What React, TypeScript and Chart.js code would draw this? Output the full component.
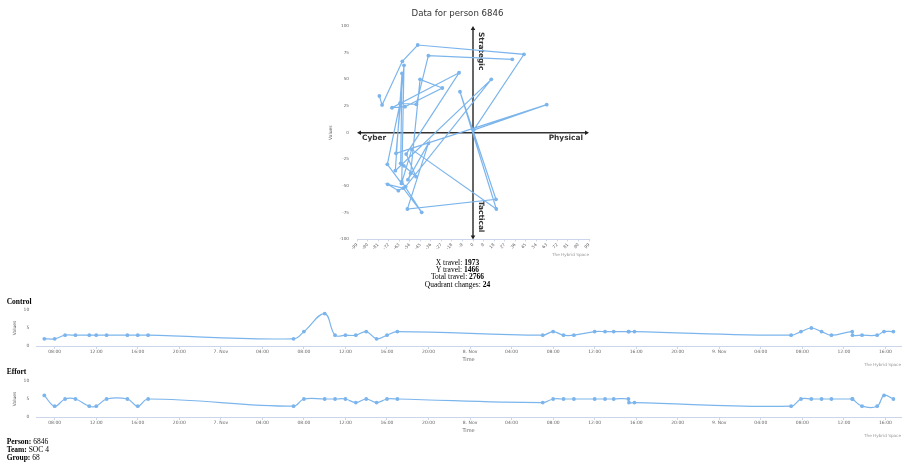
import React, { useEffect, useRef } from "react";
import { Chart, registerables } from "chart.js";

Chart.register(...registerables);

const FONT = "'DejaVu Sans', sans-serif";
const SERIF = "'Liberation Serif', 'Times New Roman', serif";
const LINE_COLOR = "#7cb5ec";

// ---------- Quadrant (hybrid space) chart data ----------
const personId = "6846";
const scatterX = [
  -79.9, -77.6, -60.3, -47.2, 43.5, 0.5, 62.9, -65.7, -58.9, -60.8,
  -43.8, -59.5, -72.8, -63.7, -57.5, 15.6, -66.3, -60.6, -61.7, -59.0,
  -48.6, -57.0, -11.9, -69.1, -58.0, -26.2, -45.2, -53.2, -55.5, -38.1,
  -56.0, 19.6, -11.1, 19.9, -52.3, -61.0, -73.1, -62.3, -48.4, -38.1, 33.5,
];
const scatterY = [
  34.4, 26.0, 66.9, 82.2, 73.5, 2.5, 26.3, -19.3, 63.2, -45.9,
  -74.6, -52.0, -48.4, -54.3, -50.5, 50.0, -35.6, 55.7, -28.7, -31.0,
  -41.2, -20.0, 56.2, 23.4, 24.4, 41.9, 50.0, -38.0, -44.0, -10.0,
  -71.5, -62.4, 38.4, -71.5, -15.6, -47.5, -29.6, 27.6, 26.6, 72.2, 68.8,
];
const quadX = { min: -99, max: 99, step: 9 };
const quadY = { min: -100, max: 100, step: 25 };
const quadrantLabels = { left: "Cyber", right: "Physical", top: "Strategic", bottom: "Tactical" };

const travelStats = [
  ["X travel", "1973"],
  ["Y travel", "1466"],
  ["Total travel", "2766"],
  ["Quadrant changes", "24"],
];

// ---------- Time series data ----------
const START_DAY = 6;
const MONTH = "Nov";
const times = [
  "11-06 07:00", "11-06 08:00", "11-06 09:00", "11-06 10:00", "11-06 11:20",
  "11-06 12:00", "11-06 13:00", "11-06 15:00", "11-06 16:00", "11-06 17:00",
  "11-07 07:00", "11-07 08:00", "11-07 10:00", "11-07 11:00", "11-07 12:00",
  "11-07 13:00", "11-07 14:00", "11-07 15:00", "11-07 16:00", "11-07 17:00",
  "11-08 07:00", "11-08 08:00", "11-08 09:00", "11-08 10:00", "11-08 12:00",
  "11-08 13:00", "11-08 13:50", "11-08 15:15", "11-08 15:18", "11-08 15:50",
  "11-09 06:55", "11-09 07:52", "11-09 08:52", "11-09 09:51", "11-09 10:48",
  "11-09 12:48", "11-09 12:50", "11-09 13:45", "11-09 15:12", "11-09 15:52",
  "11-09 16:46",
];
const controlValues = [
  2, 2, 3, 3, 3, 3, 3, 3, 3, 3,
  2, 4, 9, 3, 3, 3, 4, 2, 3, 4,
  3, 4, 3, 3, 4, 4, 4, 4, 4, 4,
  3, 4, 5, 4, 3, 4, 3, 3, 3, 4, 4,
];
const effortValues = [
  6, 3, 5, 5, 3, 3, 5, 5, 3, 5,
  3, 5, 5, 5, 5, 4, 5, 4, 5, 5,
  4, 5, 5, 5, 5, 5, 5, 5, 4, 4,
  3, 5, 5, 5, 5, 5, 5, 3, 3, 6, 5,
];
const timeRange = { min: 6.2, max: 89.5, step: 4 };
const valueRange = { min: 0, max: 10, step: 5 };

const personInfo = [
  ["Person", "6846"],
  ["Team", "SOC 4"],
  ["Group", "68"],
];

const CREDIT = "The Hybrid Space";

function parseHour(s: string): number {
  const [md, hm] = s.split(" ");
  const day = Number(md.split("-")[1]);
  const [h, m] = hm.split(":").map(Number);
  return (day - START_DAY) * 24 + h + m / 60;
}

function formatHour(v: number | string): string {
  const h = Number(v);
  const day = Math.floor(h / 24);
  const hh = Math.round(h - day * 24);
  if (hh === 0) return `${START_DAY + day}. ${MONTH}`;
  return String(hh).padStart(2, "0") + ":00";
}

const creditPlugin = (yPos: number) => ({
  id: "credit",
  afterDraw(chart: any) {
    const { ctx, chartArea } = chart;
    ctx.save();
    ctx.font = `4.2px ${FONT}`;
    ctx.fillStyle = "#999";
    ctx.textAlign = "right";
    ctx.textBaseline = "middle";
    ctx.fillText(CREDIT, chartArea.right, yPos);
    ctx.restore();
  },
});

const quadrantPlugin = {
  id: "quadrantAxes",
  beforeDatasetsDraw(chart: any) {
    const { ctx } = chart;
    const xs = chart.scales.x;
    const ys = chart.scales.y;
    const x0 = xs.getPixelForValue(0);
    const y0 = ys.getPixelForValue(0);
    const xl = xs.getPixelForValue(quadX.min);
    const xr = xs.getPixelForValue(quadX.max);
    const yt = ys.getPixelForValue(quadY.max);
    const yb = ys.getPixelForValue(quadY.min);
    ctx.save();
    ctx.strokeStyle = "#333";
    ctx.fillStyle = "#222";
    ctx.lineWidth = 1.5;
    ctx.beginPath();
    ctx.moveTo(xl + 2, y0);
    ctx.lineTo(xr - 2, y0);
    ctx.moveTo(x0, yt + 2);
    ctx.lineTo(x0, yb - 2);
    ctx.stroke();
    const a = 4, w = 2.3;
    ctx.beginPath();
    ctx.moveTo(xl, y0); ctx.lineTo(xl + a, y0 - w); ctx.lineTo(xl + a, y0 + w); ctx.closePath();
    ctx.moveTo(xr, y0); ctx.lineTo(xr - a, y0 - w); ctx.lineTo(xr - a, y0 + w); ctx.closePath();
    ctx.moveTo(x0, yt); ctx.lineTo(x0 - w, yt + a); ctx.lineTo(x0 + w, yt + a); ctx.closePath();
    ctx.moveTo(x0, yb); ctx.lineTo(x0 - w, yb - a); ctx.lineTo(x0 + w, yb - a); ctx.closePath();
    ctx.fill();

    ctx.font = `bold 7.4px ${FONT}`;
    ctx.fillStyle = "#333";
    ctx.textBaseline = "middle";
    ctx.textAlign = "left";
    ctx.fillText(quadrantLabels.left, xl + 5, y0 + 5.5);
    ctx.textAlign = "right";
    ctx.fillText(quadrantLabels.right, xr - 6, y0 + 5.5);

    ctx.save();
    ctx.translate(x0 + 8, yt + 6);
    ctx.rotate(Math.PI / 2);
    ctx.textAlign = "left";
    ctx.fillText(quadrantLabels.top, 0, 0);
    ctx.restore();

    ctx.save();
    ctx.translate(x0 + 8, yb - 7);
    ctx.rotate(Math.PI / 2);
    ctx.textAlign = "right";
    ctx.fillText(quadrantLabels.bottom, 0, 0);
    ctx.restore();

    ctx.restore();
  },
};

function makeTimeChart(canvas: HTMLCanvasElement, values: number[]) {
  const hours = times.map(parseHour);
  return new Chart(canvas, {
    type: "line",
    data: {
      datasets: [
        {
          data: hours.map((x, i) => ({ x, y: values[i] })),
          borderColor: LINE_COLOR,
          backgroundColor: LINE_COLOR,
          borderWidth: 1.2,
          pointRadius: 1.9,
          pointBorderWidth: 0,
          tension: 0.4,
          fill: false,
        },
      ],
    },
    options: {
      animation: false,
      responsive: false,
      devicePixelRatio: 1,
      layout: { padding: { top: 20, right: 3, left: 0, bottom: 0 } },
      plugins: {
        legend: { display: false },
        tooltip: { enabled: false },
        title: { display: false },
      },
      scales: {
        x: {
          type: "linear",
          min: timeRange.min,
          max: timeRange.max,
          afterFit: (s: any) => { s.height = 22; },
          ticks: {
            stepSize: timeRange.step,
            includeBounds: false,
            autoSkip: false,
            maxRotation: 0,
            minRotation: 0,
            font: { family: FONT, size: 4.5 },
            color: "#666",
            padding: 0.5,
            callback: (v: any) => formatHour(v),
          },
          grid: { display: true, drawOnChartArea: false, drawTicks: true, tickLength: 3, color: "#ccd6eb", lineWidth: 1 },
          border: { display: true, color: "#ccd6eb", width: 1 },
          title: { display: true, text: "Time", font: { family: FONT, size: 5 }, color: "#666", padding: { top: 0, bottom: 5.7 } },
        },
        y: {
          min: valueRange.min,
          max: valueRange.max,
          afterFit: (s: any) => { s.width = 36; },
          ticks: { stepSize: valueRange.step, font: { family: FONT, size: 4.5 }, color: "#666", padding: 6.7 },
          grid: { display: false, drawTicks: false },
          border: { display: false },
          title: { display: true, text: "Values", font: { family: FONT, size: 4.5 }, color: "#666", padding: { top: 12.6, bottom: 0 } },
        },
      },
    },
    plugins: [creditPlugin(75)],
  } as any);
}

export default function App() {
  const quadRef = useRef<HTMLCanvasElement>(null);
  const controlRef = useRef<HTMLCanvasElement>(null);
  const effortRef = useRef<HTMLCanvasElement>(null);

  useEffect(() => {
    const charts: Chart[] = [];
    if (quadRef.current) {
      charts.push(
        new Chart(quadRef.current, {
          type: "scatter",
          data: {
            datasets: [
              {
                data: scatterX.map((x, i) => ({ x, y: scatterY[i] })),
                showLine: true,
                borderColor: LINE_COLOR,
                backgroundColor: LINE_COLOR,
                borderWidth: 1.2,
                pointRadius: 1.9,
                pointBorderWidth: 0,
                tension: 0,
              },
            ],
          },
          options: {
            animation: false,
            responsive: false,
            devicePixelRatio: 1,
            layout: { padding: { top: 0, right: 10, left: 6, bottom: 0 } },
            plugins: {
              legend: { display: false },
              tooltip: { enabled: false },
              title: {
                display: true,
                text: `Data for person ${personId}`,
                font: { family: FONT, size: 8.6, weight: "normal" },
                color: "#333",
                padding: { top: 8.8, bottom: 6.9 },
              },
            },
            scales: {
              x: {
                type: "linear",
                min: quadX.min,
                max: quadX.max,
                afterFit: (s: any) => { s.height = 22.6; },
                ticks: {
                  stepSize: quadX.step,
                  autoSkip: false,
                  maxRotation: 45,
                  minRotation: 45,
                  font: { family: FONT, size: 4.2 },
                  color: "#666",
                  padding: 1,
                },
                grid: { display: true, drawOnChartArea: false, drawTicks: true, tickLength: 2, color: "#ccd6eb" },
                border: { display: true, color: "#ccd6eb", width: 1 },
              },
              y: {
                min: quadY.min,
                max: quadY.max,
                afterFit: (s: any) => { s.width = 31; },
                ticks: { stepSize: quadY.step, font: { family: FONT, size: 4.2 }, color: "#666", padding: 8 },
                grid: { display: false, drawTicks: false },
                border: { display: false },
                title: { display: true, text: "Values", font: { family: FONT, size: 4.5 }, color: "#666", padding: { top: 2.3, bottom: 0 } },
              },
            },
          },
          plugins: [quadrantPlugin, creditPlugin(255)],
        } as any)
      );
    }
    if (controlRef.current) charts.push(makeTimeChart(controlRef.current, controlValues));
    if (effortRef.current) charts.push(makeTimeChart(effortRef.current, effortValues));
    return () => charts.forEach((c) => c.destroy());
  }, []);

  const serif: React.CSSProperties = { fontFamily: SERIF, fontSize: 7.5, color: "#000" };

  return (
    <div style={{ position: "absolute", left: 0, top: 0, width: 905, height: 466, overflow: "hidden", background: "#fff" }}>
      <canvas ref={quadRef} width={279} height={262} style={{ position: "absolute", left: 320, top: 0, width: 279, height: 262 }} />
      <canvas ref={controlRef} width={905} height={78} style={{ position: "absolute", left: 0, top: 290, width: 905, height: 78 }} />
      <canvas ref={effortRef} width={905} height={78} style={{ position: "absolute", left: 0, top: 361, width: 905, height: 78 }} />
      <div style={{ ...serif, position: "absolute", left: 357, top: 258.6, width: 201, textAlign: "center", lineHeight: "7.35px" }}>
        {travelStats.map(([k, v]) => (
          <div key={k}>
            {k}: <b>{v}</b>
          </div>
        ))}
      </div>
      <div style={{ ...serif, position: "absolute", left: 6.7, top: 297.5, fontWeight: "bold", lineHeight: "8.4px" }}>Control</div>
      <div style={{ ...serif, position: "absolute", left: 6.7, top: 368.1, fontWeight: "bold", lineHeight: "8.4px" }}>Effort</div>
      <div style={{ ...serif, position: "absolute", left: 6.7, top: 438.3, lineHeight: "8px" }}>
        {personInfo.map(([k, v]) => (
          <div key={k}>
            <b>{k}:</b> {v}
          </div>
        ))}
      </div>
    </div>
  );
}
